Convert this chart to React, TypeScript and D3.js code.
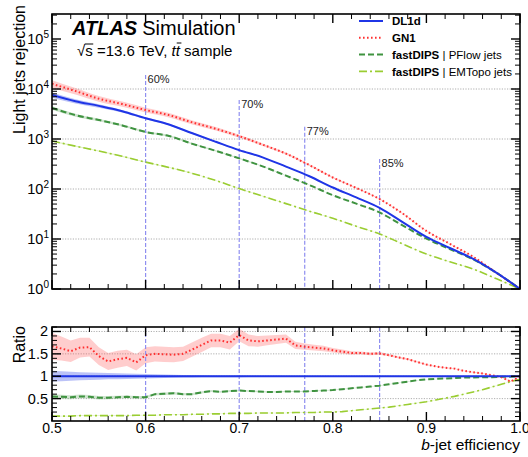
import React, { useEffect, useRef } from 'react';
import * as d3 from 'd3';

// rejection curves (top panel)
const effTop = [0.5, 0.525, 0.55, 0.575, 0.6, 0.625, 0.65, 0.675, 0.7, 0.725, 0.75, 0.775, 0.8, 0.825, 0.85, 0.875, 0.9, 0.925, 0.95, 0.975, 1.0];
const rejDL1d = [7600, 5700, 4600, 3600, 2600, 1950, 1300, 880, 600, 430, 280, 180, 107, 68, 42, 21.5, 11, 6.6, 4.0, 2.1, 1];
const rejGN1 = [12700, 9100, 6400, 5000, 3800, 3000, 2150, 1600, 1140, 770, 510, 300, 170, 105, 63, 32, 14.5, 8.0, 4.4, 2.1, 1];
const rejPFlow = [4200, 3000, 2400, 1870, 1380, 1150, 800, 580, 410, 284, 185, 120, 75, 51, 34, 18.5, 10.2, 6.3, 3.9, 2.1, 1];
const rejEMTopo = [910, 720, 575, 450, 345, 270, 205, 148, 102, 72, 51, 36, 26, 18, 12.6, 7.9, 5.0, 3.5, 2.5, 1.6, 1];
// relative uncertainties (top panel bands)
const errDL1d = [0.12, 0.1, 0.08, 0.06, 0.05, 0.04, 0.035, 0.03, 0.025, 0.02, 0.02, 0.02, 0.015, 0.015, 0.015, 0.01, 0.01, 0.01, 0.01, 0.01, 0.01];
const errGN1 = [0.18, 0.15, 0.13, 0.12, 0.11, 0.1, 0.09, 0.08, 0.07, 0.06, 0.05, 0.04, 0.035, 0.03, 0.025, 0.02, 0.02, 0.015, 0.01, 0.01, 0.01];
const errPFlow = [0.08, 0.07, 0.06, 0.05, 0.045, 0.04, 0.035, 0.03, 0.025, 0.02, 0.02, 0.015, 0.015, 0.01, 0.01, 0.01, 0.01, 0.01, 0.01, 0.01, 0.01];
const errEMTopo = [0.03, 0.03, 0.025, 0.025, 0.02, 0.02, 0.02, 0.015, 0.015, 0.015, 0.01, 0.01, 0.01, 0.01, 0.01, 0.01, 0.01, 0.01, 0.01, 0.01, 0.01];

// ratio to DL1d (bottom panel)
const effRatio = [0.5, 0.51, 0.52, 0.53, 0.54, 0.55, 0.56, 0.57, 0.58, 0.59, 0.6, 0.61, 0.62, 0.63, 0.64, 0.65, 0.66, 0.67, 0.68, 0.69, 0.7, 0.71, 0.72, 0.73, 0.74, 0.75, 0.76, 0.77, 0.78, 0.79, 0.8, 0.81, 0.82, 0.83, 0.84, 0.85, 0.86, 0.87, 0.88, 0.89, 0.9, 0.91, 0.92, 0.93, 0.94, 0.95, 0.96, 0.97, 0.98, 0.99, 1.0];
const ratioDL1d = [1, 1, 1, 1, 1, 1, 1, 1, 1, 1, 1, 1, 1, 1, 1, 1, 1, 1, 1, 1, 1, 1, 1, 1, 1, 1, 1, 1, 1, 1, 1, 1, 1, 1, 1, 1, 1, 1, 1, 1, 1, 1, 1, 1, 1, 1, 1, 1, 1, 1, 1];
const ratioGN1 = [1.67, 1.62, 1.56, 1.64, 1.65, 1.45, 1.33, 1.38, 1.41, 1.31, 1.47, 1.5, 1.49, 1.48, 1.5, 1.6, 1.7, 1.8, 1.8, 1.75, 1.92, 1.8, 1.78, 1.8, 1.82, 1.84, 1.69, 1.66, 1.64, 1.62, 1.58, 1.55, 1.52, 1.52, 1.5, 1.51, 1.47, 1.42, 1.38, 1.32, 1.26, 1.22, 1.19, 1.17, 1.12, 1.09, 1.06, 1.02, 0.98, 0.88, 1.0];
const ratioPFlow = [0.55, 0.54, 0.53, 0.55, 0.54, 0.52, 0.52, 0.53, 0.54, 0.53, 0.53, 0.6, 0.61, 0.62, 0.6, 0.6, 0.64, 0.67, 0.65, 0.67, 0.68, 0.67, 0.66, 0.65, 0.65, 0.66, 0.66, 0.66, 0.67, 0.68, 0.69, 0.71, 0.73, 0.75, 0.77, 0.79, 0.82, 0.85, 0.88, 0.91, 0.93, 0.94, 0.95, 0.96, 0.97, 0.97, 0.98, 0.98, 0.99, 0.99, 1.0];
const ratioEMTopo = [0.11, 0.11, 0.11, 0.12, 0.12, 0.12, 0.12, 0.12, 0.12, 0.13, 0.13, 0.13, 0.14, 0.14, 0.14, 0.15, 0.15, 0.16, 0.16, 0.17, 0.17, 0.17, 0.18, 0.18, 0.18, 0.18, 0.19, 0.19, 0.19, 0.2, 0.2, 0.21, 0.23, 0.25, 0.27, 0.29, 0.31, 0.34, 0.37, 0.4, 0.43, 0.47, 0.51, 0.55, 0.6, 0.65, 0.7, 0.76, 0.82, 0.88, 0.93];
// ratio band half widths
const rErrDL1d = [0.12, 0.11, 0.1, 0.09, 0.085, 0.08, 0.07, 0.065, 0.06, 0.055, 0.05, 0.045, 0.04, 0.035, 0.03, 0.03, 0.025, 0.02, 0.02, 0.02, 0.02, 0.015, 0.015, 0.015, 0.015, 0.01, 0.01, 0.01, 0.01, 0.01, 0.01, 0.01, 0.01, 0.01, 0.01, 0.01, 0.01, 0.01, 0.01, 0.01, 0.01, 0.01, 0.01, 0.01, 0.01, 0.01, 0.01, 0.01, 0.01, 0.01, 0.005];
const rErrGN1 = [0.3, 0.27, 0.24, 0.22, 0.21, 0.2, 0.19, 0.19, 0.18, 0.18, 0.18, 0.17, 0.17, 0.17, 0.16, 0.16, 0.16, 0.15, 0.15, 0.15, 0.14, 0.13, 0.12, 0.11, 0.1, 0.09, 0.08, 0.07, 0.065, 0.06, 0.05, 0.045, 0.04, 0.035, 0.03, 0.03, 0.025, 0.02, 0.02, 0.015, 0.015, 0.01, 0.01, 0.01, 0.01, 0.01, 0.01, 0.01, 0.01, 0.01, 0.01];
const rErrPFlow = [0.05, 0.048, 0.045, 0.043, 0.04, 0.038, 0.036, 0.034, 0.032, 0.03, 0.03, 0.028, 0.027, 0.026, 0.025, 0.024, 0.023, 0.022, 0.021, 0.02, 0.02, 0.018, 0.016, 0.015, 0.014, 0.013, 0.012, 0.011, 0.01, 0.01, 0.01, 0.008, 0.008, 0.008, 0.007, 0.007, 0.006, 0.006, 0.006, 0.005, 0.005, 0.005, 0.005, 0.005, 0.005, 0.005, 0.005, 0.005, 0.005, 0.005, 0.005];
const rErrEMTopo = [0.008, 0.008, 0.008, 0.008, 0.008, 0.007, 0.007, 0.007, 0.007, 0.007, 0.006, 0.006, 0.006, 0.006, 0.006, 0.005, 0.005, 0.005, 0.005, 0.005, 0.005, 0.005, 0.005, 0.005, 0.005, 0.005, 0.005, 0.005, 0.005, 0.005, 0.005, 0.005, 0.005, 0.005, 0.005, 0.005, 0.005, 0.005, 0.005, 0.005, 0.005, 0.005, 0.005, 0.005, 0.005, 0.005, 0.005, 0.005, 0.005, 0.005, 0.005];

// working points
const wpEffs = [0.6, 0.7, 0.77, 0.85];
const wpLabels = ['60%', '70%', '77%', '85%'];
const wpTops = [19000, 6000, 1750, 400];

const xTicks = [0.5, 0.6, 0.7, 0.8, 0.9, 1.0];
const xTickLabels = ['0.5', '0.6', '0.7', '0.8', '0.9', '1.0'];
const ratioTicks = [0.5, 1, 1.5, 2];
const ratioTickLabels = ['0.5', '1', '1.5', '2'];
const decades = [0, 1, 2, 3, 4, 5];

const FONT = '"Liberation Sans", Arial, Helvetica, sans-serif';

const App = () => {
    const svgRef = useRef<SVGSVGElement>(null);

    useEffect(() => {
        const width = 528;
        const height = 457;
        const left = 52, right = 520;
        const topY0 = 14, topY1 = 289;
        const botY0 = 327, botY1 = 421;

        const svg = d3.select(svgRef.current)
            .attr('width', width)
            .attr('height', height)
            .style('font-family', FONT);
        svg.selectAll('*').remove();

        const x = d3.scaleLinear().domain([0.5, 1.0]).range([left, right]);
        const y = d3.scaleLog().domain([1, Math.pow(10, 5.5)]).range([topY1, topY0]);
        const yr = d3.scaleLinear().domain([0, 2.1]).range([botY1, botY0]);

        const defs = svg.append('defs');
        defs.append('clipPath').attr('id', 'clipTop').append('rect')
            .attr('x', left).attr('y', topY0).attr('width', right - left).attr('height', topY1 - topY0);
        defs.append('clipPath').attr('id', 'clipBot').append('rect')
            .attr('x', left).attr('y', botY0).attr('width', right - left).attr('height', botY1 - botY0);

        const series = [
            { name: 'DL1d', rej: rejDL1d, err: errDL1d, ratio: ratioDL1d, rErr: rErrDL1d, color: '#1f35e6', band: '#1f35e6', bandOp: 0.3, dash: null, w: 2 },
            { name: 'GN1', rej: rejGN1, err: errGN1, ratio: ratioGN1, rErr: rErrGN1, color: '#ff3030', band: '#ff5a5a', bandOp: 0.3, dash: '1.6,2.4', w: 2 },
            { name: 'PFlow', rej: rejPFlow, err: errPFlow, ratio: ratioPFlow, rErr: rErrPFlow, color: '#3f9340', band: '#3f9340', bandOp: 0.25, dash: '6,3', w: 2 },
            { name: 'EMTopo', rej: rejEMTopo, err: errEMTopo, ratio: ratioEMTopo, rErr: rErrEMTopo, color: '#9acd32', band: '#9acd32', bandOp: 0.3, dash: '8,3,2,3', w: 1.6 },
        ];

        const gridCol = '#9a9a9a';

        // grids
        const top = svg.append('g');
        top.selectAll('line.grid').data([1, 2, 3, 4]).enter().append('line')
            .attr('x1', left).attr('x2', right)
            .attr('y1', d => y(Math.pow(10, d))).attr('y2', d => y(Math.pow(10, d)))
            .attr('stroke', gridCol).attr('stroke-width', 0.8).attr('stroke-dasharray', '1.2,1.4');
        const bot = svg.append('g');
        bot.selectAll('line.grid').data(ratioTicks).enter().append('line')
            .attr('x1', left).attr('x2', right)
            .attr('y1', d => yr(d)).attr('y2', d => yr(d))
            .attr('stroke', gridCol).attr('stroke-width', 0.8).attr('stroke-dasharray', '1.2,1.4');

        // bands
        const topBands = top.append('g').attr('clip-path', 'url(#clipTop)');
        const botBands = bot.append('g').attr('clip-path', 'url(#clipBot)');
        series.forEach(s => {
            const area = d3.area<number>()
                .x(d => x(d))
                .y0((d, i) => y(s.rej[i] * (1 - s.err[i])))
                .y1((d, i) => y(s.rej[i] * (1 + s.err[i])))
                .curve(d3.curveMonotoneX);
            topBands.append('path').attr('d', area(effTop))
                .attr('fill', s.band).attr('fill-opacity', s.bandOp).attr('stroke', 'none');
            const rArea = d3.area<number>()
                .x(d => x(d))
                .y0((d, i) => yr(s.ratio[i] - s.rErr[i]))
                .y1((d, i) => yr(s.ratio[i] + s.rErr[i]));
            botBands.append('path').attr('d', rArea(effRatio))
                .attr('fill', s.band).attr('fill-opacity', s.bandOp).attr('stroke', 'none');
        });

        // working point lines
        const wpCol = '#8f8ff0';
        wpEffs.forEach((e, i) => {
            top.append('line')
                .attr('x1', x(e)).attr('x2', x(e))
                .attr('y1', y(wpTops[i])).attr('y2', topY1)
                .attr('stroke', wpCol).attr('stroke-width', 1.2).attr('stroke-dasharray', '4,2');
            top.append('text')
                .attr('x', x(e) + 2).attr('y', y(wpTops[i]) + 8)
                .attr('font-size', 11).attr('fill', '#222')
                .text(wpLabels[i]);
            bot.append('line')
                .attr('x1', x(e)).attr('x2', x(e))
                .attr('y1', botY0).attr('y2', botY1)
                .attr('stroke', wpCol).attr('stroke-width', 1.2).attr('stroke-dasharray', '4,2');
        });

        // curves
        const topLines = top.append('g').attr('clip-path', 'url(#clipTop)');
        const botLines = bot.append('g').attr('clip-path', 'url(#clipBot)');
        [...series].reverse().forEach(s => {
            const line = d3.line<number>().x(d => x(d)).y((d, i) => y(s.rej[i])).curve(d3.curveMonotoneX);
            topLines.append('path').attr('d', line(effTop))
                .attr('fill', 'none').attr('stroke', s.color).attr('stroke-width', s.w)
                .attr('stroke-dasharray', s.dash);
            const rLine = d3.line<number>().x(d => x(d)).y((d, i) => yr(s.ratio[i]));
            botLines.append('path').attr('d', rLine(effRatio))
                .attr('fill', 'none').attr('stroke', s.color).attr('stroke-width', s.w)
                .attr('stroke-dasharray', s.dash);
        });

        // frames and ticks
        const drawFrame = (g, y0, y1) => {
            g.append('rect').attr('x', left).attr('y', y0).attr('width', right - left).attr('height', y1 - y0)
                .attr('fill', 'none').attr('stroke', '#000').attr('stroke-width', 1.6);
            const minors = d3.range(25, 51).map(v => v / 50);
            minors.forEach(v => {
                const major = xTicks.some(t => Math.abs(t - v) < 1e-6);
                const len = major ? 9 : 5;
                g.append('line').attr('x1', x(v)).attr('x2', x(v)).attr('y1', y1).attr('y2', y1 - len)
                    .attr('stroke', '#000').attr('stroke-width', major ? 1.4 : 1);
                g.append('line').attr('x1', x(v)).attr('x2', x(v)).attr('y1', y0).attr('y2', y0 + len)
                    .attr('stroke', '#000').attr('stroke-width', major ? 1.4 : 1);
            });
        };
        const yTick = (g, yy, len, major) => {
            g.append('line').attr('x1', left).attr('x2', left + len).attr('y1', yy).attr('y2', yy)
                .attr('stroke', '#000').attr('stroke-width', major ? 1.4 : 1);
            g.append('line').attr('x1', right).attr('x2', right - len).attr('y1', yy).attr('y2', yy)
                .attr('stroke', '#000').attr('stroke-width', major ? 1.4 : 1);
        };

        drawFrame(top, topY0, topY1);
        decades.forEach(d => {
            yTick(top, y(Math.pow(10, d)), 9, true);
            for (let m = 2; m <= 9; m++) {
                const v = m * Math.pow(10, d);
                if (v < Math.pow(10, 5.5)) yTick(top, y(v), 5, false);
            }
            const t = top.append('text').attr('x', 49).attr('y', y(Math.pow(10, d)) + 5)
                .attr('text-anchor', 'end').attr('font-size', 14.5).attr('fill', '#000');
            t.append('tspan').text('10');
            t.append('tspan').attr('font-size', 10).attr('dy', -6).text(String(d));
        });

        drawFrame(bot, botY0, botY1);
        d3.range(1, 22).map(v => v / 10).forEach(v => {
            const major = ratioTicks.some(t => Math.abs(t - v) < 1e-6);
            yTick(bot, yr(v), major ? 9 : 5, major);
        });
        ratioTicks.forEach((v, i) => {
            bot.append('text').attr('x', 48).attr('y', yr(v) + 5)
                .attr('text-anchor', 'end').attr('font-size', 14.5).attr('fill', '#000')
                .text(ratioTickLabels[i]);
        });
        xTicks.forEach((v, i) => {
            bot.append('text').attr('x', x(v)).attr('y', botY1 + 12)
                .attr('text-anchor', 'middle').attr('font-size', 14).attr('fill', '#000')
                .text(xTickLabels[i]);
        });

        // axis titles
        svg.append('text')
            .attr('transform', `translate(25,5) rotate(-90)`)
            .attr('text-anchor', 'end').attr('font-size', 16).attr('fill', '#000')
            .text('Light jets rejection');
        svg.append('text')
            .attr('transform', `translate(25,${botY0 - 1}) rotate(-90)`)
            .attr('text-anchor', 'end').attr('font-size', 16).attr('fill', '#000')
            .text('Ratio');
        const xl = svg.append('text')
            .attr('x', right).attr('y', 450)
            .attr('text-anchor', 'end').attr('font-size', 15.5).attr('fill', '#000');
        xl.append('tspan').attr('font-style', 'italic').text('b');
        xl.append('tspan').text('-jet efficiency');

        // ATLAS label
        const title = svg.append('text').attr('x', 72).attr('y', 35).attr('font-size', 20).attr('fill', '#000');
        title.append('tspan').attr('font-weight', 'bold').attr('font-style', 'italic').text('ATLAS');
        title.append('tspan').attr('dx', 5).text('Simulation');

        const sub = svg.append('text').attr('x', 77).attr('y', 56).attr('font-size', 15).attr('fill', '#000');
        sub.append('tspan').text('\u221A');
        sub.append('tspan').text('s');
        sub.append('tspan').text(' =13.6 TeV, ');
        sub.append('tspan').attr('font-style', 'italic').text('tt');
        sub.append('tspan').text(' sample');
        // overline over s and the second t
        try {
            const subNode = sub.node();
            const sStart = subNode.getStartPositionOfChar(1);
            const sEnd = subNode.getEndPositionOfChar(1);
            svg.append('line').attr('x1', sStart.x - 0.5).attr('x2', sEnd.x + 0.5)
                .attr('y1', 56 - 12).attr('y2', 56 - 12).attr('stroke', '#000').attr('stroke-width', 1);
            const full = subNode.textContent || '';
            const ti = full.indexOf('tt') + 1;
            const tStart = subNode.getStartPositionOfChar(ti);
            const tEnd = subNode.getEndPositionOfChar(ti);
            svg.append('line').attr('x1', tStart.x + 1).attr('x2', tEnd.x + 1.5)
                .attr('y1', 56 - 13).attr('y2', 56 - 13).attr('stroke', '#000').attr('stroke-width', 1);
        } catch (e) { /* ignore */ }

        // legend
        const legend = svg.append('g');
        const legendNames = [['DL1d', ''], ['GN1', ''], ['fastDIPS', ' | PFlow jets'], ['fastDIPS', ' | EMTopo jets']];
        series.forEach((s, i) => {
            const cy = 21 + i * 16.8;
            legend.append('line').attr('x1', 359).attr('x2', 383).attr('y1', cy).attr('y2', cy)
                .attr('stroke', s.color).attr('stroke-width', s.w).attr('stroke-dasharray', s.dash);
            const t = legend.append('text').attr('x', 392).attr('y', cy + 4.3).attr('font-size', 11.5).attr('fill', '#000');
            t.append('tspan').attr('font-weight', 'bold').text(legendNames[i][0]);
            if (legendNames[i][1]) t.append('tspan').text(legendNames[i][1]);
        });
    }, []);

    return <svg ref={svgRef} style={{ position: 'absolute', left: 0, top: 0, display: 'block' }}></svg>;
};

export default App;
